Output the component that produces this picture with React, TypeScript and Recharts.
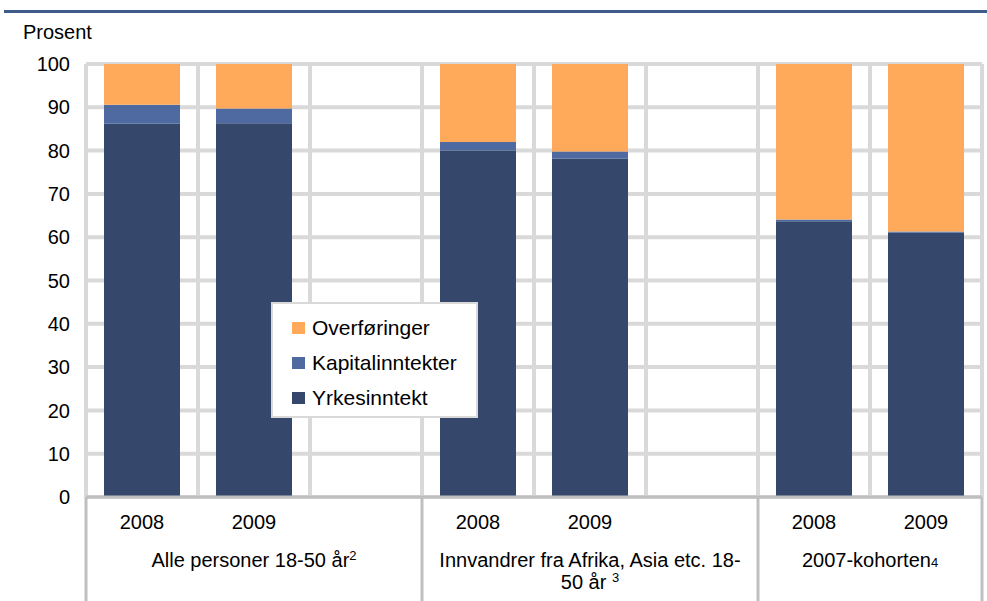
import { Bar, BarChart, CartesianGrid, Legend, XAxis, YAxis } from "recharts";

const categories = ["2008", "2009", "", "2008", "2009", "", "2008", "2009"];
const groupOfSlot = [0, 0, 0, 1, 1, 1, 2, 2];
const groupLines = [
  ["Alle personer 18-50 år"],
  ["Innvandrer fra Afrika, Asia etc. 18-", "50 år "],
  ["2007-kohorten"],
];
const groupNotes = ["2", "3", "4"];

const yrkesinntekt = [86.2, 86.3, null, 80.0, 78.1, null, 63.7, 61.0];
const kapitalinntekter = [4.4, 3.4, null, 2.0, 1.7, null, 0.4, 0.3];
const overforinger = [9.4, 10.3, null, 18.0, 20.2, null, 35.9, 38.7];

const yTicks = [0, 10, 20, 30, 40, 50, 60, 70, 80, 90, 100];

const series = [
  { key: "overforinger", name: "Overføringer", color: "#FFAA5A" },
  { key: "kapitalinntekter", name: "Kapitalinntekter", color: "#4E6AA0" },
  { key: "yrkesinntekt", name: "Yrkesinntekt", color: "#35476B" },
];

const data = categories.map((year, i) => ({
  slot: i,
  year,
  yrkesinntekt: yrkesinntekt[i],
  kapitalinntekter: kapitalinntekter[i],
  overforinger: overforinger[i],
}));

const FONT = '"Liberation Sans", Arial, sans-serif';
const W = 987;
const H = 601;
const PLOT_LEFT = 86;
const PLOT_RIGHT = 982;
const SLOT = (PLOT_RIGHT - PLOT_LEFT) / categories.length;
const SEP = "#BFBFBF";

function CategoryTick(props: any) {
  const { x, y, payload } = props;
  const i = payload.index;
  const g = groupOfSlot[i];
  const first = groupOfSlot.indexOf(g);
  const count = groupOfSlot.filter((v) => v === g).length;
  const isFirst = i === first;
  const left = x - SLOT / 2;
  const right = left + count * SLOT;
  const center = (left + right) / 2;
  const isLastGroup = g === groupLines.length - 1;
  const lines = groupLines[g];
  return (
    <g>
      {categories[i] && (
        <text x={x} y={y + 32} textAnchor="middle" fontSize={20} fill="#000" fontFamily={FONT}>
          {categories[i]}
        </text>
      )}
      {isFirst && <line x1={left} x2={left} y1={y} y2={H} stroke={SEP} strokeWidth={3} />}
      {isFirst && isLastGroup && <line x1={right} x2={right} y1={y} y2={H} stroke={SEP} strokeWidth={3} />}
      {isFirst &&
        lines.map((line, li) => {
          const last = li === lines.length - 1;
          const raised = g !== 2;
          return (
            <text
              key={li}
              x={center}
              y={y + 70 + li * 22}
              textAnchor="middle"
              fontSize={20}
              fill="#000"
              fontFamily={FONT}
            >
              {line}
              {last && (
                <tspan fontSize={13} dy={raised ? -7 : 0}>
                  {groupNotes[g]}
                </tspan>
              )}
            </text>
          );
        })}
    </g>
  );
}

function LegendBox() {
  return (
    <div
      style={{
        boxSizing: "border-box",
        width: "100%",
        height: "100%",
        background: "#fff",
        border: "2px solid #D9D9D9",
        padding: "6px 0 0 19px",
        fontFamily: FONT,
        fontSize: 21,
        color: "#000",
      }}
    >
      {series.map((s) => (
        <div key={s.key} style={{ display: "flex", alignItems: "center", height: 35 }}>
          <span style={{ display: "inline-block", width: 13, height: 12, background: s.color, marginRight: 7 }} />
          <span>{s.name}</span>
        </div>
      ))}
    </div>
  );
}

export default function App() {
  return (
    <div style={{ position: "absolute", left: 0, top: 0, width: W, height: H, background: "#fff", fontFamily: FONT }}>
      <div style={{ position: "absolute", left: 4, top: 10, width: W - 4, height: 3, background: "#3F5B8C" }} />
      <div style={{ position: "absolute", left: 23, top: 21, fontSize: 20, color: "#000" }}>Prosent</div>
      <BarChart width={W} height={H} data={data} margin={{ top: 64, right: W - PLOT_RIGHT, bottom: 0, left: 0 }}>
        <CartesianGrid
          stroke="#D9D9D9"
          strokeWidth={4}
          verticalCoordinatesGenerator={({ offset }: any) =>
            Array.from({ length: categories.length + 1 }, (_, i) => offset.left + (i * offset.width) / categories.length)
          }
        />
        <XAxis
          dataKey="slot"
          type="category"
          height={104}
          interval={0}
          tickSize={0}
          tickMargin={0}
          tickLine={false}
          axisLine={{ stroke: SEP, strokeWidth: 3 }}
          tick={(p: any) => <CategoryTick {...p} />}
        />
        <YAxis
          width={PLOT_LEFT}
          domain={[0, 100]}
          ticks={yTicks}
          interval={0}
          axisLine={false}
          tickLine={false}
          tickSize={0}
          tickMargin={16}
          tick={{ fontSize: 20, fill: "#000", fontFamily: FONT }}
        />
        <Legend
          layout="vertical"
          align="center"
          verticalAlign="middle"
          content={() => <LegendBox />}
          wrapperStyle={{ left: 271, top: 302, width: 207, height: 116 }}
        />
        <Bar dataKey="yrkesinntekt" name="Yrkesinntekt" stackId="a" fill="#35476B" barSize={76} isAnimationActive={false} />
        <Bar dataKey="kapitalinntekter" name="Kapitalinntekter" stackId="a" fill="#4E6AA0" barSize={76} isAnimationActive={false} />
        <Bar dataKey="overforinger" name="Overføringer" stackId="a" fill="#FFAA5A" barSize={76} isAnimationActive={false} />
      </BarChart>
    </div>
  );
}
